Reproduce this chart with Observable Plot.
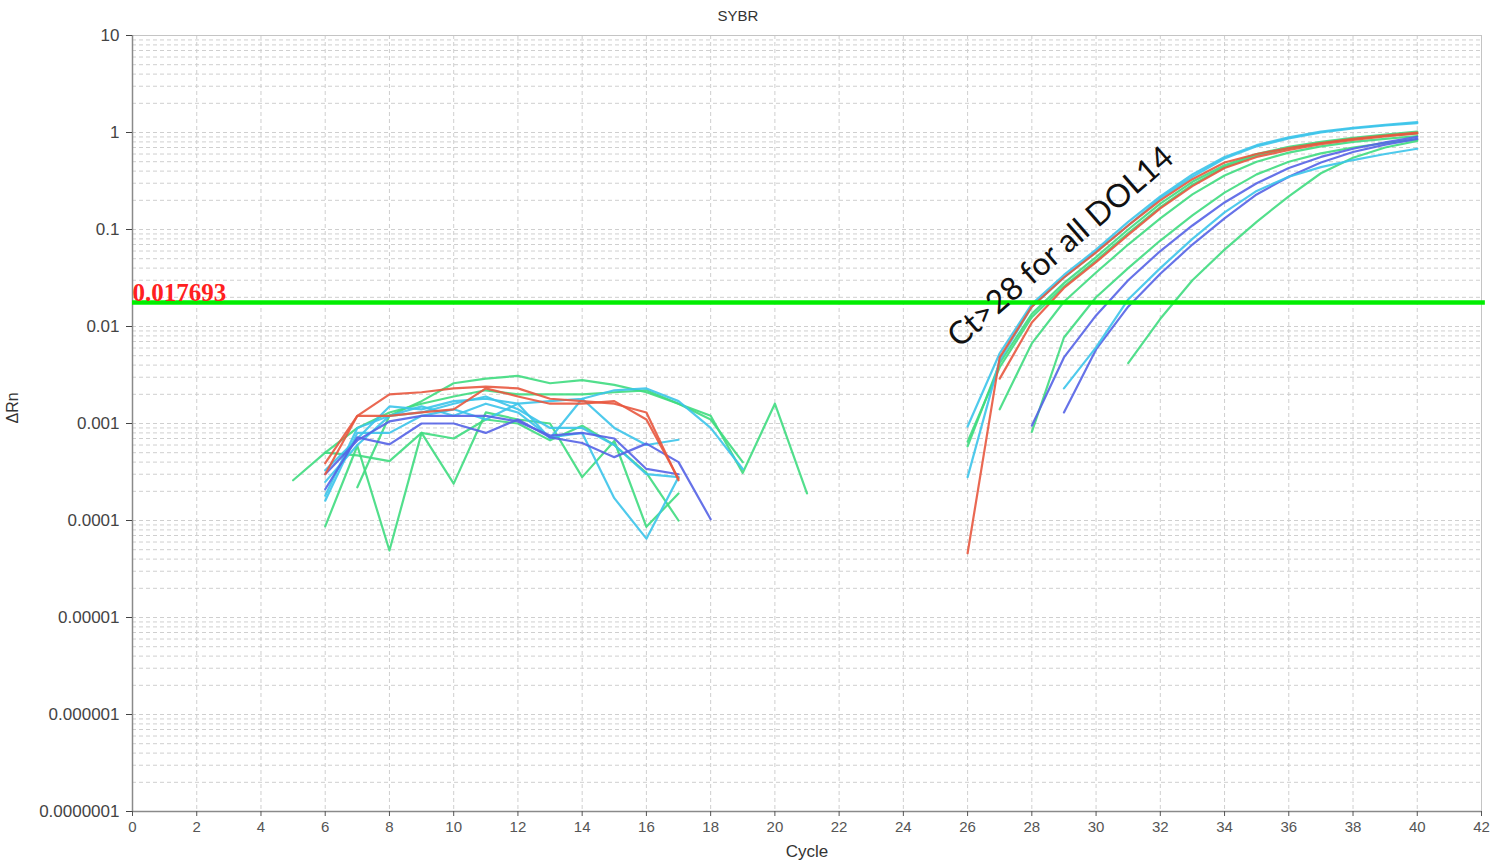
<!DOCTYPE html>
<html>
<head>
<meta charset="utf-8">
<script src="https://cdn.jsdelivr.net/npm/d3@7"></script>
<script src="https://cdn.jsdelivr.net/npm/@observablehq/plot@0.6"></script>
<style>
  html, body { margin: 0; padding: 0; background: #fff; }
  #chart svg { display: block; }
</style>
</head>
<body>
<div id="chart"></div>
<script>
// ---- Axis ticks & labels ----
const xTicks = [0, 2, 4, 6, 8, 10, 12, 14, 16, 18, 20, 22, 24, 26, 28, 30, 32, 34, 36, 38, 40, 42];
const yTicks = [10, 1, 0.1, 0.01, 0.001, 0.0001, 0.00001, 0.000001, 0.0000001];
const yTickLabels = ["10", "1", "0.1", "0.01", "0.001", "0.0001", "0.00001", "0.000001", "0.0000001"];
const titleText = "SYBR";
const xLabel = "Cycle";
const yLabel = "ΔRn";
const threshold = 0.017693;
const thresholdLabel = "0.017693";
const annotation = "Ct>28 for all DOL14";

// ---- Background noise segments (ΔRn by cycle, first cycle given) ----
const noiseRed1 = [0.00039, 0.0012, 0.002, 0.0021, 0.0023, 0.0024, 0.0023, 0.0018, 0.0017, 0.0016, 0.0013, 0.00026]; // 6-17
const noiseRed2 = [0.0003, 0.0012, 0.0012, 0.0013, 0.0014, 0.0023, 0.0019, 0.0016, 0.0016, 0.0017, 0.0011, 0.00027]; // 6-17
const noiseBlue1 = [0.00021, 0.00072, 0.00061, 0.001, 0.001, 0.0008, 0.0011, 0.00072, 0.00063, 0.00045, 0.00062, 0.0004, 0.000103]; // 6-18
const noiseBlue2 = [0.0003, 0.00067, 0.00105, 0.0012, 0.0012, 0.0012, 0.00105, 0.00075, 0.0008, 0.0007, 0.00034, 0.0003]; // 6-17
const noiseCyan1 = [0.00033, 0.0007, 0.0015, 0.0014, 0.0017, 0.0018, 0.0016, 0.0017, 0.0018, 0.0022, 0.0023, 0.0017, 0.0009, 0.00034]; // 6-19
const noiseCyan2 = [0.00018, 0.0009, 0.0012, 0.0015, 0.0012, 0.0016, 0.0013, 0.00072, 0.0008, 0.00017, 0.000065, 0.00028]; // 6-17
const noiseCyan3 = [0.00016, 0.0008, 0.0008, 0.0012, 0.0014, 0.0011, 0.0016, 0.0007, 0.0018, 0.0009, 0.0006, 0.00068]; // 6-17
const noiseCyan4 = [0.00025, 0.0006, 0.0012, 0.0013, 0.0016, 0.0019, 0.0014, 0.0009, 0.0009, 0.0006, 0.0003, 0.00028]; // 6-17
const noiseGreen1 = [0.00026, 0.0005, 0.00047, 0.00041, 0.0008, 0.0007, 0.0011, 0.001, 0.00067, 0.00095, 0.0006, 0.00031, 0.0001]; // 5-17
const noiseGreen2 = [0.000087, 0.00059, 0.000049, 0.0008, 0.00024, 0.0013, 0.0011, 0.001, 0.00028, 0.00066, 0.000086, 0.00019]; // 6-17
const noiseGreen3 = [0.00022, 0.0012, 0.0017, 0.0026, 0.0029, 0.0031, 0.0026, 0.0028, 0.0025, 0.0021, 0.0016, 0.0011, 0.0004]; // 7-19
const noiseGreen4 = [0.0005, 0.0009, 0.0013, 0.0016, 0.0019, 0.0022, 0.002, 0.002, 0.002, 0.0021, 0.0022, 0.0016, 0.0012, 0.00031, 0.0016, 0.00019]; // 6-21

// ---- Amplification curves ----
const ampCyan1 = [0.00093, 0.0053, 0.017, 0.034, 0.062, 0.12, 0.22, 0.37, 0.56, 0.74, 0.89, 1.02, 1.12, 1.2, 1.28]; // 26-40
const ampCyan2 = [0.00028, 0.0045, 0.016, 0.032, 0.059, 0.11, 0.21, 0.35, 0.54, 0.72, 0.87, 1.0, 1.1, 1.18, 1.25]; // 26-40
const ampRed1 = [0.000046, 0.0048, 0.016, 0.032, 0.058, 0.11, 0.2, 0.33, 0.49, 0.6, 0.69, 0.78, 0.86, 0.93, 1.0]; // 26-40
const ampRed2 = [0.0029, 0.011, 0.025, 0.046, 0.088, 0.165, 0.28, 0.43, 0.56, 0.66, 0.76, 0.84, 0.91, 0.98]; // 27-40
const ampGreen1 = [0.00058, 0.0042, 0.0135, 0.028, 0.052, 0.1, 0.185, 0.31, 0.46, 0.6, 0.71, 0.8, 0.88, 0.95, 1.02]; // 26-40
const ampGreen2 = [0.00065, 0.0038, 0.0125, 0.026, 0.048, 0.092, 0.17, 0.29, 0.44, 0.58, 0.69, 0.78, 0.86, 0.93, 0.98]; // 26-40
const ampGreen3 = [0.0014, 0.0067, 0.018, 0.036, 0.07, 0.13, 0.23, 0.36, 0.5, 0.62, 0.72, 0.8, 0.86, 0.92]; // 27-40
const ampGreen4 = [0.00082, 0.0077, 0.02, 0.04, 0.077, 0.14, 0.24, 0.37, 0.5, 0.61, 0.7, 0.78, 0.85]; // 28-40
const ampBlue1 = [0.00095, 0.0048, 0.013, 0.03, 0.06, 0.11, 0.19, 0.3, 0.43, 0.56, 0.68, 0.79, 0.9]; // 28-40
const ampCyan3 = [0.0023, 0.0061, 0.019, 0.04, 0.08, 0.15, 0.25, 0.35, 0.44, 0.52, 0.6, 0.68]; // 29-40
const ampBlue2 = [0.0013, 0.0058, 0.016, 0.035, 0.07, 0.13, 0.23, 0.35, 0.49, 0.63, 0.75, 0.86]; // 29-40
const ampGreen5 = [0.0042, 0.012, 0.03, 0.062, 0.12, 0.22, 0.38, 0.55, 0.7, 0.82]; // 31-40

// [id, colour group, first cycle, values]
const curves = [
  ["noiseGreen1", "green", 5, noiseGreen1],
  ["noiseGreen2", "green", 6, noiseGreen2],
  ["noiseGreen3", "green", 7, noiseGreen3],
  ["noiseGreen4", "green", 6, noiseGreen4],
  ["noiseCyan1", "cyan", 6, noiseCyan1],
  ["noiseCyan2", "cyan", 6, noiseCyan2],
  ["noiseCyan3", "cyan", 6, noiseCyan3],
  ["noiseCyan4", "cyan", 6, noiseCyan4],
  ["noiseBlue1", "blue", 6, noiseBlue1],
  ["noiseBlue2", "blue", 6, noiseBlue2],
  ["noiseRed1", "red", 6, noiseRed1],
  ["noiseRed2", "red", 6, noiseRed2],
  ["ampGreen1", "green", 26, ampGreen1],
  ["ampGreen2", "green", 26, ampGreen2],
  ["ampGreen3", "green", 27, ampGreen3],
  ["ampGreen4", "green", 28, ampGreen4],
  ["ampGreen5", "green", 31, ampGreen5],
  ["ampBlue1", "blue", 28, ampBlue1],
  ["ampBlue2", "blue", 29, ampBlue2],
  ["ampCyan3", "cyan", 29, ampCyan3],
  ["ampCyan1", "cyan", 26, ampCyan1],
  ["ampCyan2", "cyan", 26, ampCyan2],
  ["ampRed2", "red", 27, ampRed2],
  ["ampRed1", "red", 26, ampRed1]
];

const groupColor = {red: "#e8583f", blue: "#5563e6", cyan: "#3cc4ea", green: "#3fdc80"};

const data = curves.flatMap(([id, group, start, vals]) =>
  vals.map((v, i) => ({id, group, cycle: start + i, value: v})));

const yLabelMap = new Map(yTicks.map((t, i) => [t, yTickLabels[i]]));

// minor log grid lines
const minorY = [];
for (let k = -7; k <= 0; k++) for (let m = 1; m <= 9; m++) minorY.push(+(m * Math.pow(10, k)).toPrecision(3));
minorY.push(10);

const fontSans = "'Liberation Sans', Arial, sans-serif";

const chart = Plot.plot({
  width: 1500,
  height: 868,
  marginLeft: 132,
  marginRight: 19,
  marginTop: 35,
  marginBottom: 57,
  style: {fontFamily: fontSans, background: "#fff", overflow: "visible"},
  color: {type: "identity"},
  x: {domain: [0, 42]},
  y: {type: "log", domain: [1e-7, 10]},
  marks: [
    Plot.ruleY(minorY, {stroke: "#cfcfcf", strokeDasharray: "4,3", strokeWidth: 1}),
    Plot.ruleX(xTicks, {stroke: "#cfcfcf", strokeDasharray: "4,3", strokeWidth: 1}),
    Plot.frame({stroke: "#c4c4c4"}),
    Plot.ruleX([0], {stroke: "#8a8a8a", strokeWidth: 1.5}),
    Plot.ruleY([1e-7], {stroke: "#8a8a8a", strokeWidth: 1.5}),
    Plot.axisX(xTicks, {tickFormat: d => String(d), fontSize: 15, tickSize: 5, tickPadding: 5, color: "#555", label: null}),
    Plot.axisY(yTicks, {tickFormat: d => yLabelMap.get(d), fontSize: 17, tickSize: 6, tickPadding: 7, color: "#444", label: null}),
    Plot.line(data, {x: "cycle", y: "value", z: "id", stroke: d => groupColor[d.group], strokeWidth: 2.2, strokeOpacity: 0.9}),
    Plot.ruleY([threshold], {x1: 0, x2: 42.12, stroke: "#00ee00", strokeWidth: 4.5}),
    Plot.text([thresholdLabel], {x: 0, y: threshold, text: d => d, textAnchor: "start", lineAnchor: "bottom", dy: -1,
      fill: "#ff2020", fontFamily: "'Liberation Serif', 'Times New Roman', serif", fontWeight: "bold", fontSize: 25}),
    Plot.text([annotation], {x: 28.9, y: 0.066, text: d => d, rotate: -41, fontSize: 32, fill: "#111",
      fontFamily: "Lato, 'Open Sans', sans-serif"}),
    Plot.text([titleText], {frameAnchor: "top", text: d => d, dx: -69, dy: -19, lineAnchor: "middle", fontSize: 15, fill: "#333"}),
    Plot.text([xLabel], {frameAnchor: "bottom", text: d => d, dy: 40, lineAnchor: "middle", fontSize: 17, fill: "#333"}),
    Plot.text([yLabel], {frameAnchor: "left", text: d => d, dx: -120, rotate: -90, lineAnchor: "middle", fontSize: 16, fill: "#333"})
  ]
});

document.getElementById("chart").appendChild(chart);
</script>
</body>
</html>
